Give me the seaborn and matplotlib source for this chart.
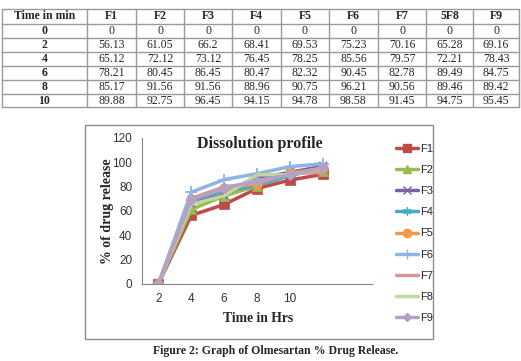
import numpy as np
import pandas as pd
import matplotlib
matplotlib.use("Agg")
from matplotlib import pyplot as plt
from matplotlib.lines import Line2D
import seaborn as sns

# table / chart data
times = [0, 2, 4, 6, 8, 10]
table_headers = ["Time in min", "F1", "F2", "F3", "F4", "F5", "F6", "F7", "5F8", "F9"]
series_names = ["F1", "F2", "F3", "F4", "F5", "F6", "F7", "F8", "F9"]
f1 = [0, 56.13, 65.12, 78.21, 85.17, 89.88]
f2 = [0, 61.05, 72.12, 80.45, 91.56, 92.75]
f3 = [0, 66.2, 73.12, 86.45, 91.56, 96.45]
f4 = [0, 68.41, 76.45, 80.47, 88.96, 94.15]
f5 = [0, 69.53, 78.25, 82.32, 90.75, 94.78]
f6 = [0, 75.23, 85.56, 90.45, 96.21, 98.58]
f7 = [0, 70.16, 79.57, 82.78, 90.56, 91.45]
f8 = [0, 65.28, 72.21, 89.49, 89.46, 94.75]
f9 = [0, 69.16, 78.43, 84.75, 89.42, 95.45]
x_tick_labels = ["2", "4", "6", "8", "10"]

series = [f1, f2, f3, f4, f5, f6, f7, f8, f9]
colors = ["#BE4B48", "#98B954", "#7D60A0", "#46AAC5", "#F79646",
          "#8EB4E3", "#DA9694", "#C3D69B", "#B3A2C7"]
markers = ["s", "^", "x", (6, 2, 0), "o", "+", None, None, "D"]
msizes = [7, 7, 6, 7, 7, 8, 0, 0, 5]

sns.set_style("white")
plt.rcParams["font.family"] = ["Liberation Serif", "DejaVu Serif"]

W, H = 521, 361
fig = plt.figure(figsize=(W / 100, H / 100), dpi=100)

def fx(px):
    return px / W

def fy(py):
    return 1 - py / H

# ---- table at top ----
col_edges = [2, 87, 136, 184, 232, 281, 329, 378, 426, 473, 519]
row_edges = [8.5, 23.5, 37.5, 51.5, 65.5, 79.5, 93.5, 107.5]
line_col = "#9a9a9a"
for x in col_edges:
    fig.add_artist(Line2D([fx(x), fx(x)], [fy(row_edges[0]), fy(row_edges[-1])],
                          color=line_col, lw=1))
for y in row_edges:
    fig.add_artist(Line2D([fx(col_edges[0]), fx(col_edges[-1])], [fy(y), fy(y)],
                          color=line_col, lw=1))

def cell_center(c, r):
    return fx((col_edges[c] + col_edges[c + 1]) / 2), fy((row_edges[r] + row_edges[r + 1]) / 2)

for c, h in enumerate(table_headers):
    x, y = cell_center(c, 0)
    fig.text(x, y, h, ha="center", va="center", fontsize=8.5, weight="bold")
table_cols = [f1, f2, f3, f4, f5, f6, f7, f8, f9]
for r, t in enumerate(times):
    x, y = cell_center(0, r + 1)
    fig.text(x, y, str(t), ha="center", va="center", fontsize=8.5, weight="bold")
    for c, col in enumerate(table_cols):
        v = col[r]
        s = "0" if v == 0 else f"{v:g}"
        x, y = cell_center(c + 1, r + 1)
        fig.text(x, y, s, ha="center", va="center", fontsize=8.5)

# ---- chart frame ----
fig.add_artist(plt.Rectangle((fx(85), fy(339)), fx(433) - fx(85), fy(125) - fy(339),
                             fill=False, edgecolor="#8c8c8c", lw=1))

ax = fig.add_axes([fx(142), fy(283.7), fx(372) - fx(142), fy(137.7) - fy(283.7)])

rows = []
for name, vals in zip(series_names, series):
    for i, v in enumerate(vals):
        rows.append({"pos": i, "value": v, "series": name})
df = pd.DataFrame(rows)

handles = []
for name, col, mk, ms in zip(series_names, colors, markers, msizes):
    sub = df[df["series"] == name]
    sns.lineplot(data=sub, x="pos", y="value", ax=ax, color=col, lw=2.5,
                 marker=mk, markersize=ms, markeredgecolor=col,
                 markeredgewidth=1.3 if mk in ("x", "+") else 0.5)
    handles.append(Line2D([0], [0], color=col, lw=2.5, marker=mk, markersize=ms * 0.85,
                          markeredgecolor=col))

ax.set_xlim(-0.5, 6.5)
ax.set_ylim(0, 120)
ax.set_yticks(np.arange(0, 121, 20))
ax.set_xticks(range(len(x_tick_labels)))
ax.set_xticklabels(x_tick_labels)
ax.set_xticks(np.arange(-0.5, 7, 1), minor=True)
ax.tick_params(axis="x", which="major", length=0, pad=7)
ax.tick_params(axis="x", which="minor", length=4, color="#888888", direction="out")
ax.tick_params(axis="y", length=4, color="#888888", direction="out", pad=3)
for lab in ax.get_xticklabels() + ax.get_yticklabels():
    lab.set_family(["Liberation Sans", "DejaVu Sans"])
    lab.set_fontsize(8.5)
    lab.set_color("#333333")
for s in ["top", "right"]:
    ax.spines[s].set_visible(False)
for s in ["left", "bottom"]:
    ax.spines[s].set_color("#888888")
    ax.spines[s].set_linewidth(0.8)
ax.set_xlabel("")
ax.set_ylabel("")

fig.text(fx(260), fy(144), "Dissolution profile", ha="center", va="center",
         fontsize=11.5, weight="bold")
fig.text(fx(108), fy(211), "% of drug release", ha="center", va="center",
         rotation=90, fontsize=10, weight="bold")
fig.text(fx(258), fy(318), "Time in Hrs", ha="center", va="center",
         fontsize=9.8, weight="bold")

leg = fig.legend(handles, series_names, loc="upper left",
                 bbox_to_anchor=(fx(396), fy(144)), frameon=False,
                 prop={"family": ["Liberation Sans", "DejaVu Sans"], "size": 8},
                 handlelength=2.0, handletextpad=0.15, labelspacing=1.0,
                 borderpad=0, borderaxespad=0)

fig.text(fx(276), fy(351), "Figure 2: Graph of Olmesartan % Drug Release.",
         ha="center", va="center", fontsize=8.5, weight="bold")

fig.savefig("out.png", dpi=100)
